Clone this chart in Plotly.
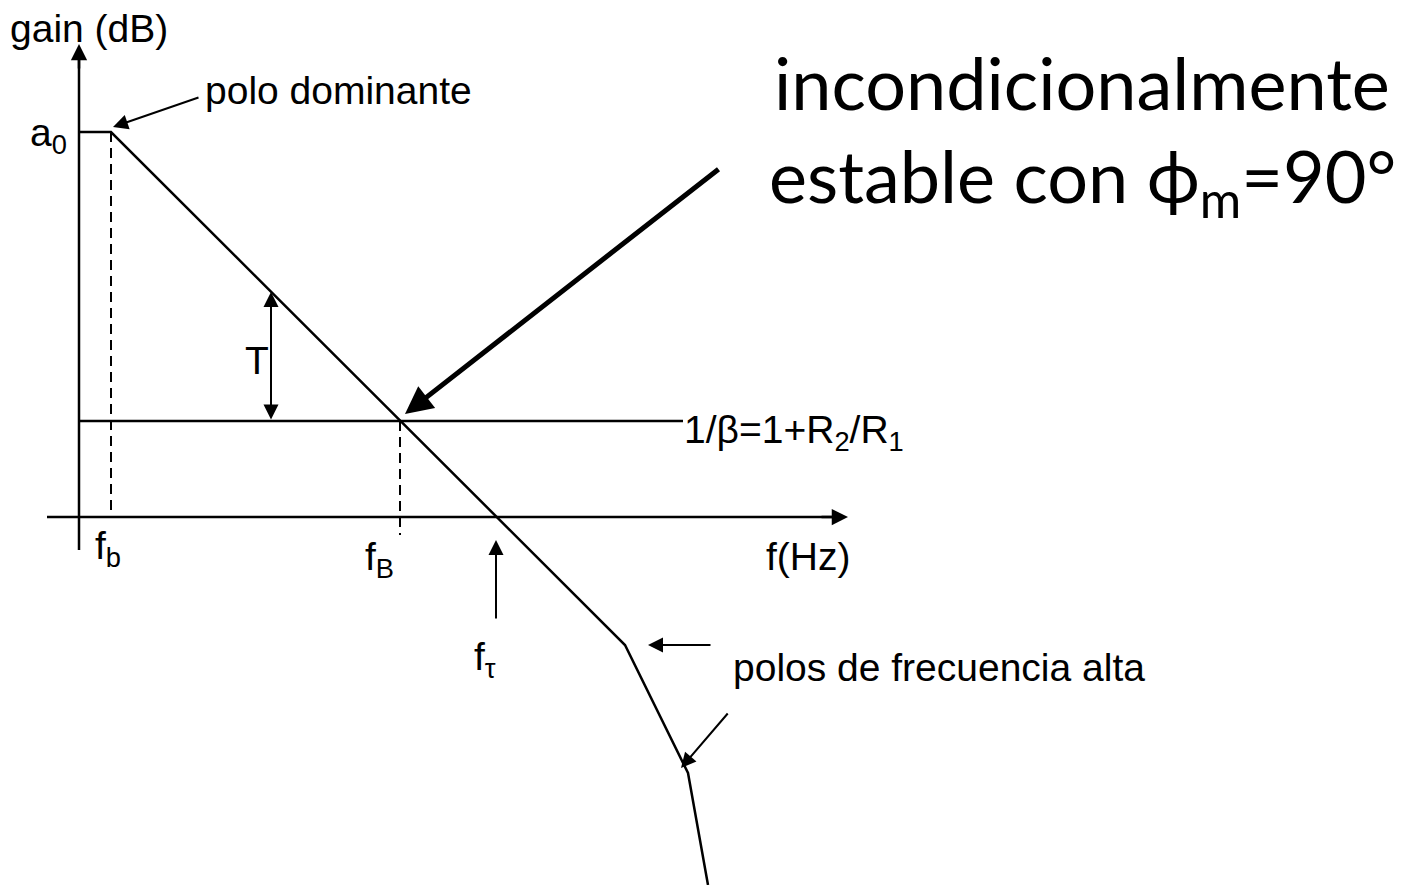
import plotly.graph_objects as go

# Schematic Bode magnitude diagram (drawing units: x = frequency position, y = gain position, downward)
bode_f = [79, 111, 625, 688, 708]
bode_gain = [132, 132, 645, 773, 885]
beta_f = [79, 683]
beta_gain = [421, 421]
xaxis_f = [47, 838]
xaxis_gain = [517, 517]
yaxis_f = [79, 79]
yaxis_gain = [550, 52]
fb_f = [111, 111]
fb_gain = [132, 517]
fB_f = [400, 400]
fB_gain = [421, 535]

FONT = "Liberation Sans, Arial, sans-serif"
BIG = "Lato, Open Sans, sans-serif"
PAGE_OFFSET = 8  # browser body margin

fig = go.Figure()
line = dict(color="black", width=2.5)
fig.add_trace(go.Scatter(x=bode_f, y=bode_gain, mode="lines", line=line))
fig.add_trace(go.Scatter(x=beta_f, y=beta_gain, mode="lines", line=line))
fig.add_trace(go.Scatter(x=xaxis_f, y=xaxis_gain, mode="lines", line=line))
fig.add_trace(go.Scatter(x=yaxis_f, y=yaxis_gain, mode="lines", line=line))
fig.add_trace(go.Scatter(x=fb_f, y=fb_gain, mode="lines", line=dict(color="black", width=2, dash="10px,6px")))
fig.add_trace(go.Scatter(x=fB_f, y=fB_gain, mode="lines", line=dict(color="black", width=2, dash="10px,6px")))

def arrow(x, y, ax, ay, width=2, size=1.3, side="end", head=2):
    fig.add_annotation(x=x, y=y, ax=ax, ay=ay, xref="x", yref="y", axref="x", ayref="y",
                       showarrow=True, arrowhead=head, arrowsize=size, arrowwidth=width,
                       arrowcolor="black", text="", arrowside=side,
                       startarrowhead=head, startarrowsize=size)

# axis arrowheads
arrow(79, 44, 79, 70, width=2.5, size=1.3)
arrow(848, 517, 820, 517, width=2.5, size=1.3)
# annotation arrows
arrow(113, 127, 200, 97, width=2, size=1.5)
arrow(271, 292, 271, 421, width=2, size=1.5, side="end+start")
arrow(405, 414, 720, 168, width=5, size=1.1)
arrow(496, 540, 496, 620, width=2, size=1.5)
arrow(648, 645, 712, 645, width=2, size=1.5)
arrow(681, 768, 729, 712, width=2, size=1.5)

def label(x, y, text, size=39, font=FONT, xanchor="left"):
    fig.add_annotation(x=x, y=y, xref="x", yref="y", text=text, showarrow=False,
                       xanchor=xanchor, yanchor="middle", font=dict(family=font, size=size, color="black"))

label(8, 28, "gain (dB)")
label(28, 135, "a<sub>0</sub>")
label(203, 90, "polo dominante")
label(243, 360, "T")
label(682, 432, "1/β=1+R<sub>2</sub>/R<sub>1</sub>")
label(93, 548, "f<sub>b</sub>")
label(363, 559, "f<sub>B</sub>")
label(764, 556, "f(Hz)")
label(472, 659, "f<sub>τ</sub>")
label(731, 667, "polos de frecuencia alta")
label(1082, 82, "incondicionalmente", size=72, font=BIG, xanchor="center")
label(1082, 180, "estable con ϕ<sub>m</sub>=90°", size=72, font=BIG, xanchor="center")

fig.update_layout(
    width=1403 - PAGE_OFFSET, height=885 - PAGE_OFFSET, autosize=False,
    margin=dict(l=0, r=0, t=0, b=0),
    paper_bgcolor="white", plot_bgcolor="white",
    showlegend=False,
    xaxis=dict(range=[PAGE_OFFSET, 1403], visible=False, fixedrange=True),
    yaxis=dict(range=[885, PAGE_OFFSET], visible=False, fixedrange=True),
)
fig.write_html("out.html")
